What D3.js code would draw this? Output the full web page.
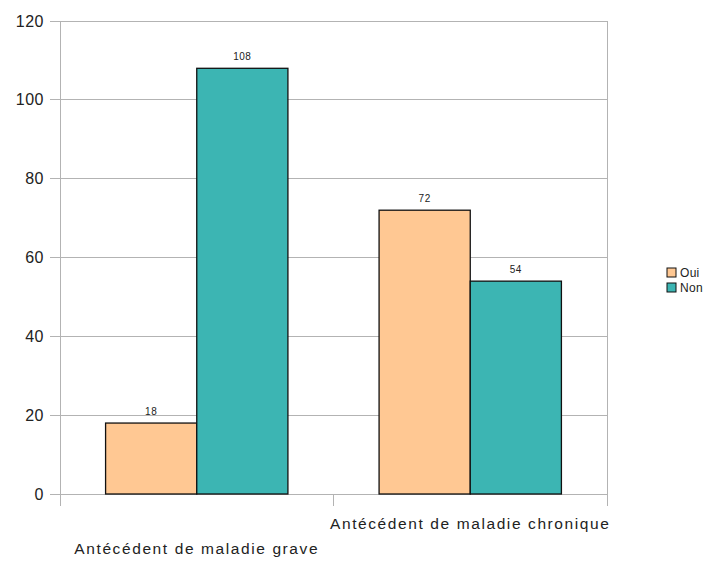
<!DOCTYPE html>
<html><head><meta charset="utf-8">
<script src="https://cdn.jsdelivr.net/npm/d3@7"></script>
<style>body{margin:0;background:#fff;}svg{display:block;font-family:"Liberation Sans",Arial,sans-serif;}</style>
</head><body>
<svg id="c" width="723" height="563"></svg>
<script>
const categories = ["Antécédent de maladie grave", "Antécédent de maladie chronique"];
const series = ["Oui", "Non"];
const oui = [18, 72];
const non = [108, 54];
const yTicks = [0, 20, 40, 60, 80, 100, 120];
const colors = ["#ffc893", "#3cb5b3"];

const svg = d3.select("#c");
const L = 60, R = 607, T = 21, B = 494;
const x = d3.scaleBand().domain(categories).range([L, R]).paddingInner(0).paddingOuter(0);
const x1 = d3.scaleBand().domain(series).range([0, x.bandwidth()]).paddingInner(0).paddingOuter(0.5);
const y = d3.scaleLinear().domain([0, 120]).range([B, T]);

// gridlines
svg.append("g").selectAll("line").data(yTicks).join("line")
  .attr("x1", L - 10).attr("x2", R).attr("y1", d => y(d)).attr("y2", d => y(d))
  .attr("stroke", "#b3b3b3").attr("stroke-width", 1).attr("shape-rendering", "crispEdges");
// plot sides
svg.append("line").attr("x1", L).attr("x2", L).attr("y1", T).attr("y2", B + 12).attr("stroke", "#b3b3b3").attr("shape-rendering", "crispEdges");
svg.append("line").attr("x1", R).attr("x2", R).attr("y1", T).attr("y2", B + 12).attr("stroke", "#b3b3b3").attr("shape-rendering", "crispEdges");
svg.append("line").attr("x1", x(categories[1])).attr("x2", x(categories[1])).attr("y1", B).attr("y2", B + 12).attr("stroke", "#b3b3b3").attr("shape-rendering", "crispEdges");

// y labels
svg.append("g").selectAll("text").data(yTicks).join("text")
  .attr("x", 44).attr("y", d => y(d)).attr("dy", "0.35em").attr("text-anchor", "end")
  .attr("font-size", 16).attr("letter-spacing", 0.5).attr("fill", "#222").text(d => d);

const data = categories.map((c, i) => ({c, vals: [oui[i], non[i]]}));
const g = svg.append("g").selectAll("g").data(data).join("g").attr("transform", d => `translate(${x(d.c)},0)`);
g.selectAll("rect").data(d => d.vals.map((v, j) => ({v, s: series[j], j}))).join("rect")
  .attr("x", d => x1(d.s)).attr("width", x1.bandwidth())
  .attr("y", d => y(d.v)).attr("height", d => y(0) - y(d.v))
  .attr("fill", d => colors[d.j]).attr("stroke", "#111").attr("stroke-width", 1.3);
g.selectAll("text").data(d => d.vals.map((v, j) => ({v, s: series[j]}))).join("text")
  .attr("x", d => x1(d.s) + x1.bandwidth() / 2).attr("y", d => y(d.v) - 8)
  .attr("text-anchor", "middle").attr("font-size", 10).attr("letter-spacing", 0.5).attr("fill", "#222").text(d => d.v);

// category labels (staggered)
svg.append("g").selectAll("text").data(categories).join("text")
  .attr("x", d => x(d) + x.bandwidth() / 2).attr("y", (d, i) => i === 0 ? 554 : 529)
  .attr("text-anchor", "middle").attr("font-size", 15.5).attr("letter-spacing", 1.6).attr("fill", "#222").text(d => d);

// legend
const lg = svg.append("g").selectAll("g").data(series).join("g").attr("transform", (d, i) => `translate(667,${268 + i * 15})`);
lg.append("rect").attr("width", 9).attr("height", 9).attr("fill", (d, i) => colors[i]).attr("stroke", "#111").attr("stroke-width", 1);
lg.append("text").attr("x", 13).attr("y", 5).attr("dy", "0.35em").attr("font-size", 12).attr("letter-spacing", 0.3).attr("fill", "#222").text(d => d);
</script>
</body></html>
